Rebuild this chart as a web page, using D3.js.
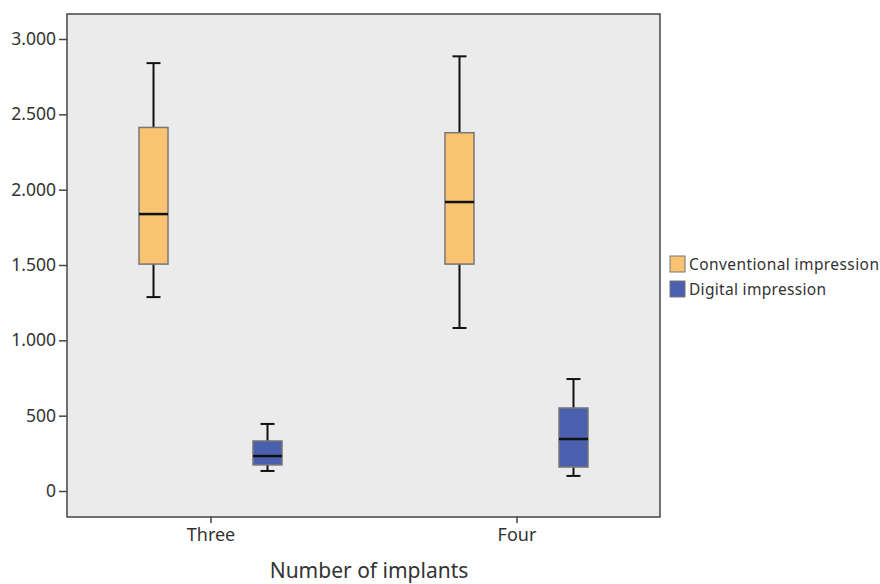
<!DOCTYPE html>
<html>
<head>
<meta charset="utf-8">
<script src="https://cdn.jsdelivr.net/npm/d3@7"></script>
<style>
  body { margin: 0; background: #fff; }
  text { font-family: "Noto Sans", sans-serif; fill: #333; }
</style>
</head>
<body>
<svg id="chart" width="880" height="584"></svg>
<script>
// categories and series
var groups = ["Three", "Four"];
var series = ["Conventional impression", "Digital impression"];
var colors = ["#f9c372", "#4a5fae"];

// box stats: [min, q1, median, q3, max]
var conventional = [[1287, 1506, 1838, 2413, 2840], [1082, 1506, 1918, 2378, 2885]];
var digital = [[133, 173, 232, 332, 445], [100, 159, 345, 551, 743]];
var yTicks = [0, 500, 1000, 1500, 2000, 2500, 3000];

var svg = d3.select("#chart");
var pLeft = 67, pRight = 660, pTop = 14, pBottom = 517;

var y = d3.scaleLinear().domain([0, 3000]).range([491, 39]);
var x = d3.scalePoint().domain(groups).range([pLeft, pRight]).padding(0.469);
var sub = d3.scalePoint().domain(series).range([-57, 57]);
var boxW = 29, capW = 14;

// plot background
svg.append("rect")
  .attr("x", pLeft).attr("y", pTop)
  .attr("width", pRight - pLeft).attr("height", pBottom - pTop)
  .attr("fill", "#ebebeb")
  .attr("stroke", "#444").attr("stroke-width", 1.5);

// y axis
var yAxis = svg.append("g")
  .attr("transform", "translate(" + pLeft + ",0)")
  .call(d3.axisLeft(y).tickValues(yTicks).tickSize(8).tickPadding(3)
    .tickFormat(function (d) { return d3.format(",")(d).replace(",", "."); }));
yAxis.select(".domain").remove();
yAxis.selectAll("line").attr("stroke", "#444").attr("stroke-width", 1.5);
yAxis.selectAll("text").style("font-size", "17.5px").attr("fill", "#333");

// x axis
var xAxis = svg.append("g")
  .attr("transform", "translate(0," + pBottom + ")")
  .call(d3.axisBottom(x).tickSize(6).tickPadding(5));
xAxis.select(".domain").remove();
xAxis.selectAll("line").attr("stroke", "#444").attr("stroke-width", 1.5);
xAxis.selectAll("text").style("font-size", "18px").attr("fill", "#333");

svg.append("text")
  .attr("x", 369).attr("y", 578)
  .attr("text-anchor", "middle")
  .style("font-size", "21px")
  .text("Number of implants");

// boxes
var rows = [];
groups.forEach(function (g, i) {
  rows.push({ group: g, s: 0, v: conventional[i] });
  rows.push({ group: g, s: 1, v: digital[i] });
});

var box = svg.selectAll(".box")
  .data(rows)
  .enter()
  .append("g")
  .attr("class", "box")
  .attr("transform", function (d) { return "translate(" + (x(d.group) + sub(series[d.s])) + ",0)"; });

// whiskers
box.append("line")
  .attr("y1", function (d) { return y(d.v[0]); })
  .attr("y2", function (d) { return y(d.v[1]); })
  .attr("stroke", "#111").attr("stroke-width", 2);
box.append("line")
  .attr("y1", function (d) { return y(d.v[3]); })
  .attr("y2", function (d) { return y(d.v[4]); })
  .attr("stroke", "#111").attr("stroke-width", 2);
box.append("line")
  .attr("x1", -capW / 2).attr("x2", capW / 2)
  .attr("y1", function (d) { return y(d.v[0]); })
  .attr("y2", function (d) { return y(d.v[0]); })
  .attr("stroke", "#111").attr("stroke-width", 2);
box.append("line")
  .attr("x1", -capW / 2).attr("x2", capW / 2)
  .attr("y1", function (d) { return y(d.v[4]); })
  .attr("y2", function (d) { return y(d.v[4]); })
  .attr("stroke", "#111").attr("stroke-width", 2);

box.append("rect")
  .attr("x", -boxW / 2).attr("width", boxW)
  .attr("y", function (d) { return y(d.v[3]); })
  .attr("height", function (d) { return y(d.v[1]) - y(d.v[3]); })
  .attr("fill", function (d) { return colors[d.s]; })
  .attr("stroke", "#777").attr("stroke-width", 1.5);

// median
box.append("line")
  .attr("x1", -boxW / 2).attr("x2", boxW / 2)
  .attr("y1", function (d) { return y(d.v[2]); })
  .attr("y2", function (d) { return y(d.v[2]); })
  .attr("stroke", "#111").attr("stroke-width", 2.5);

// legend
var legend = svg.selectAll(".legend")
  .data(series)
  .enter()
  .append("g")
  .attr("class", "legend")
  .attr("transform", function (d, i) { return "translate(670," + (256 + i * 25) + ")"; });
legend.append("rect")
  .attr("width", 15).attr("height", 16)
  .attr("fill", function (d, i) { return colors[i]; })
  .attr("stroke", "#777").attr("stroke-width", 1);
legend.append("text")
  .attr("x", 19).attr("y", 14)
  .style("font-size", "15.5px")
  .attr("textLength", function (d, i) { return i === 0 ? 190 : 137; })
  .text(function (d) { return d; });
</script>
</body>
</html>
